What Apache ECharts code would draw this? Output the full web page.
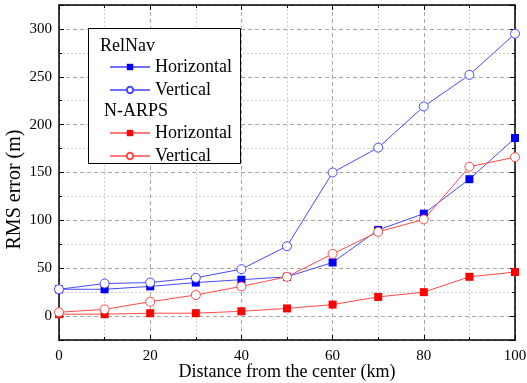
<!DOCTYPE html>
<html>
<head>
<meta charset="utf-8">
<script src="https://cdn.jsdelivr.net/npm/echarts@6/dist/echarts.min.js"></script>
<style>
  html, body { margin: 0; padding: 0; background: #fff; }
  #chart { width: 527px; height: 383px; }
</style>
</head>
<body>
<div id="chart"></div>
<script>
const distance = [0, 10, 20, 30, 40, 50, 60, 70, 80, 90, 100]
const relNavHorizontal = [28, 28, 31, 35, 38, 41, 56, 90, 107, 143, 186]
const relNavVertical = [28, 34, 35, 40, 49, 73, 150, 176, 219, 252, 295]
const nArpsHorizontal = [2, 2, 3, 3, 5, 8, 12, 20, 25, 41, 46]
const nArpsVertical = [4, 7, 15, 22, 31, 41, 65, 88, 101, 156, 166]

const FONT = 'Liberation Serif'
const BLUE = '#0000ff'
const BLUE_LINE = '#4a4aff'
const RED = '#ff0000'
const RED_LINE = '#ff4a4a'

const pairs = (ys) => distance.map((x, i) => [x, ys[i]])

function makeSeries(name, ys, filled, color, lineColor) {
    return {
        name,
        type: 'line',
        xAxisIndex: 0,
        yAxisIndex: 0,
        data: pairs(ys),
        symbol: filled ? 'rect' : 'circle',
        symbolSize: filled ? 8 : 9,
        showAllSymbol: true,
        lineStyle: { color: lineColor, width: 1 },
        itemStyle: filled
            ? { color: color, borderWidth: 0 }
            : { color: '#fff', borderColor: lineColor, borderWidth: 1 },
        emphasis: { disabled: true },
        animation: false,
    }
}

const chart = echarts.init(document.getElementById('chart'), null, { renderer: 'canvas' })

const yBase = {
    type: 'value',
    min: -25,
    max: 325,
    splitNumber: 7,
    minInterval: 50,
    maxInterval: 50,
    axisLine: { show: true, onZero: false, lineStyle: { color: '#000', width: 1.5 } },
    axisTick: { show: true, inside: true, length: 5, lineStyle: { color: '#000' } },
    minorTick: { show: true, splitNumber: 2, length: 3, lineStyle: { color: '#000' } },
}

const xBase = {
    type: 'value',
    min: 0,
    max: 100,
    interval: 20,
    axisLine: { show: true, onZero: false, lineStyle: { color: '#000', width: 1.5 } },
    axisTick: { show: true, inside: true, length: 5, lineStyle: { color: '#000' } },
    minorTick: { show: true, splitNumber: 2, length: 3, lineStyle: { color: '#000' } },
}

const legendBase = {
    orient: 'vertical',
    left: 104,
    itemWidth: 40,
    itemHeight: 8,
    itemGap: 5,
    z: 20,
    selectedMode: false,
    formatter: (name) => name.split(' ')[1],
    textStyle: { fontFamily: FONT, fontSize: 18, color: '#000' },
}

chart.setOption({
    backgroundColor: '#fff',
    grid: { left: 59, right: 12, top: 5, bottom: 43, containLabel: false, outerBoundsMode: 'none' },
    xAxis: [
        {
            ...xBase,
            position: 'bottom',
            name: 'Distance from the center (km)',
            nameLocation: 'middle',
            nameGap: 23,
            nameMoveOverlap: false,
            nameTextStyle: { fontFamily: FONT, fontSize: 18, color: '#000' },
            axisLabel: { fontFamily: FONT, fontSize: 15, color: '#000', margin: 9 },
            splitLine: { show: true, lineStyle: { color: '#a8a8a8', type: [4, 3], width: 1 } },
            minorSplitLine: { show: true, lineStyle: { color: '#d0d0d0', type: [2, 2], width: 1 } },
        },
        {
            ...xBase,
            position: 'top',
            axisLabel: { show: false },
            splitLine: { show: false },
        },
    ],
    yAxis: [
        {
            ...yBase,
            position: 'left',
            name: 'RMS error (m)',
            nameLocation: 'middle',
            nameGap: 34,
            nameMoveOverlap: false,
            nameTextStyle: { fontFamily: FONT, fontSize: 20, color: '#000', padding: [0, 34, 0, 0] },
            axisLabel: {
                fontFamily: FONT, fontSize: 15, color: '#000', margin: 7,
                showMinLabel: false, showMaxLabel: false,
            },
            splitLine: { show: true, lineStyle: { color: '#a8a8a8', type: [4, 3], width: 1 } },
            minorSplitLine: { show: true, lineStyle: { color: '#d0d0d0', type: [2, 2], width: 1 } },
        },
        {
            ...yBase,
            position: 'right',
            axisLabel: { show: false },
            splitLine: { show: false },
        },
    ],
    legend: [
        { ...legendBase, top: 53, lineStyle: { color: '#7070ff' }, data: ['RelNav Horizontal', 'RelNav Vertical'] },
        { ...legendBase, top: 119, lineStyle: { color: '#ff7b7b' }, data: ['N-ARPS Horizontal', 'N-ARPS Vertical'] },
    ],
    graphic: [
        {
            type: 'rect',
            z: 10,
            shape: { x: 88.5, y: 28.5, width: 152, height: 135 },
            style: { fill: '#fff', stroke: '#000', lineWidth: 1 },
        },
        {
            type: 'text',
            z: 11,
            left: 100,
            top: 37,
            style: { text: 'RelNav', font: '18px "Liberation Serif"', fill: '#000' },
        },
        {
            type: 'text',
            z: 11,
            left: 104,
            top: 102,
            style: { text: 'N-ARPS', font: '18px "Liberation Serif"', fill: '#000' },
        },
    ],
    series: [
        makeSeries('RelNav Horizontal', relNavHorizontal, true, BLUE, BLUE_LINE),
        makeSeries('RelNav Vertical', relNavVertical, false, BLUE, BLUE_LINE),
        makeSeries('N-ARPS Horizontal', nArpsHorizontal, true, RED, RED_LINE),
        makeSeries('N-ARPS Vertical', nArpsVertical, false, RED, RED_LINE),
    ],
})
</script>
</body>
</html>
